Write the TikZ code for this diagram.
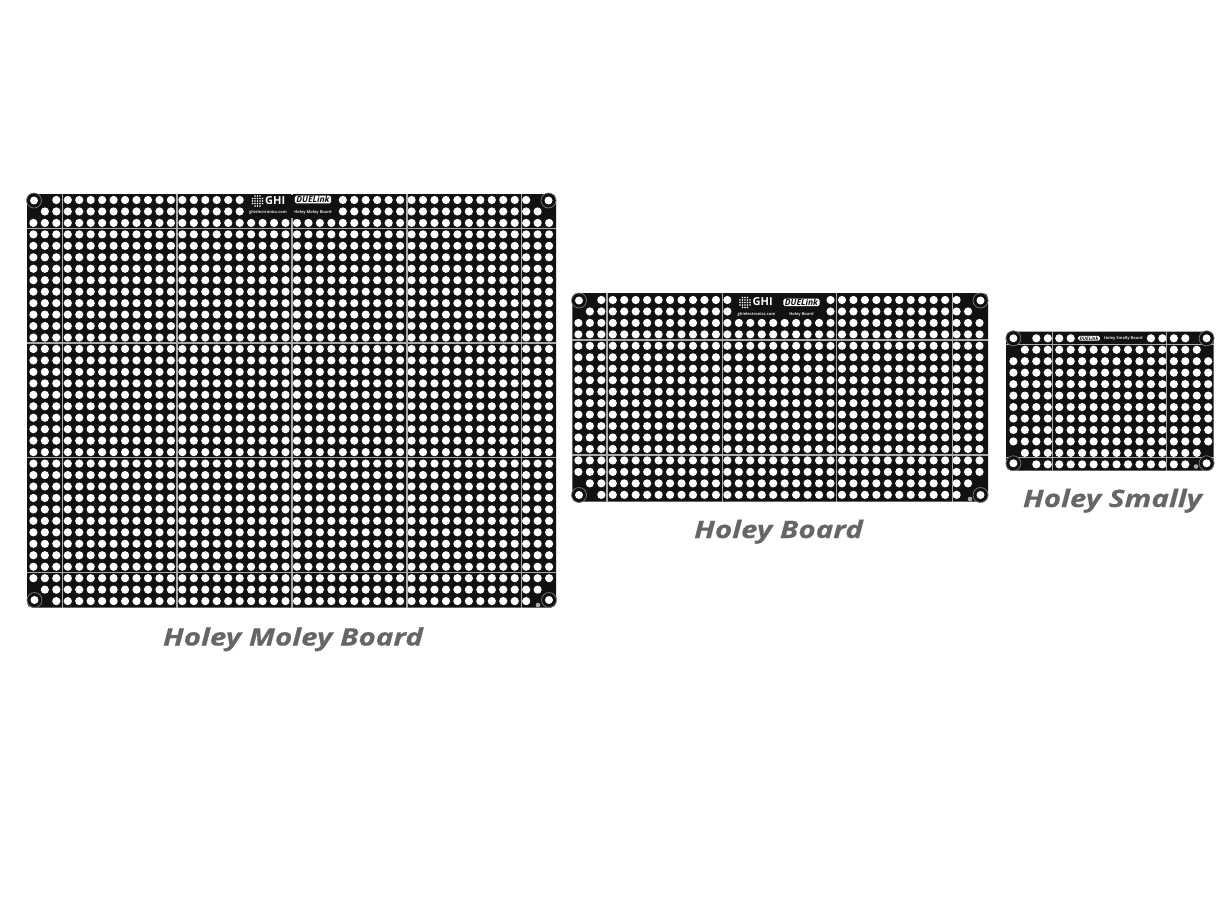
\documentclass[tikz,border=0pt]{standalone}
\usepackage{fontspec}
\setmainfont{Open Sans}
\newfontfamily\capfont[FakeStretch=1.235,BoldItalicFeatures={FakeBold=0.4}]{Open Sans}
\usepackage{xcolor}
\definecolor{pcb}{HTML}{111111}
\definecolor{cutline}{HTML}{ABABAB}
\definecolor{ring}{HTML}{7A7A7A}
\definecolor{caption}{HTML}{666666}
\newcommand{\holes}[4]{% first x, first y, columns, rows
  \foreach \col in {1,...,#3} \foreach \row in {1,...,#4}
    \fill[white] ({#1+11.46*(\col-1)},{#2+11.46*(\row-1)}) circle (4.1);
}
\newcommand{\blanks}[3]{% first x, first y, list of column/row
  \foreach \col/\row in {#3}
    \fill[pcb] ({#1+11.46*\col},{#2+11.46*\row}) circle (5);
}
\tikzset{
  board/.style={fill=pcb, rounded corners=5pt},
  cut/.style={draw=cutline, line width=1.1pt},
  boardname/.style={font=\capfont\bfseries\itshape\fontsize{24}{24}\selectfont, text=caption, inner sep=0pt, anchor=base},
  tiny/.style={font=\bfseries\fontsize{4}{4}\selectfont, text=white!85!black, inner sep=0pt},
  mount/.pic={
    \fill[pcb] (0,0) circle (7.5);
    \draw[ring, line width=0.7pt] (0,0) circle (7.5);
    \fill[white] (0,0) circle (4);
  },
  badge/.pic={
    \node[fill=white, rounded corners=1.5pt, inner xsep=1.5pt, inner ysep=0.5pt, text=pcb,
      font=\bfseries\itshape\fontsize{#1}{#1}\selectfont] (text) {DUELink};
  },
  ghimark/.pic={
    \foreach \i in {-2,...,2} \foreach \j in {-2,...,2} {
      \ifnum\numexpr\i*\i+\j*\j\relax<7
        \fill[white] (\i*2.5,\j*2.5) circle (0.95);
      \fi
    }
    \node[font=\bfseries\fontsize{11}{11}\selectfont, text=white, inner sep=0pt, anchor=west] (ghi) at (7.5,-0.5) {GHI};
  },
}
\begin{document}
\begin{tikzpicture}[x=1pt, y=-1pt]
  \useasboundingbox (0,0) rectangle (1229,900);

  % large board
  \fill[board] (27,194) rectangle (556,607.5);
  \holes{33.4}{200}{46}{36}
  \blanks{33.4}{200}{1/0,0/1,44/0,45/1,1/35,0/34,44/35,45/34}
  \foreach \x in {62.3,177,292,407,521.5} \draw[cut] (\x,194) -- (\x,607.5);
  \foreach \y in {228.5,343,457.5,572.5} \draw[cut] (27,\y) -- (556,\y);
  \fill[pcb] (247,195) rectangle (338,217.5);
  \pic at (34,200.5) {mount};
  \pic at (548.5,200.5) {mount};
  \pic at (34.5,600) {mount};
  \pic at (549,600) {mount};
  \fill[cutline] (538,605) circle (2.3);
  \pic (logoA) at (257.5,201) {ghimark};
  \pic (badgeA) at (313,199.5) {badge=8.5};
  \node[tiny] (urlA) at (268,212.5) {ghielectronics.com};
  \node[tiny] (nameA) at (313,212.5) {Holey Moley Board};
  \node[boardname] (captionA) at (293,645.5) {Holey Moley Board};

  % middle board
  \fill[board] (572.3,293) rectangle (988,501.5);
  \holes{578.4}{300}{36}{18}
  \blanks{578.4}{300}{1/0,0/1,34/0,35/1,1/17,0/16,34/17,35/16}
  \foreach \x in {607,722.3,836.7,952.7} \draw[cut] (\x,293) -- (\x,501.5);
  \foreach \y in {340,455} \draw[cut] (572.3,\y) -- (988,\y);
  \fill[pcb] (733.5,294) rectangle (826,317);
  \pic at (579,300.5) {mount};
  \pic at (980.5,300.5) {mount};
  \pic at (579,495) {mount};
  \pic at (980.5,495) {mount};
  \fill[cutline] (970,499) circle (2.3);
  \pic (logoB) at (745,302.5) {ghimark};
  \pic (badgeB) at (801.5,302.4) {badge=8.5};
  \node[tiny] (urlB) at (756.5,314.3) {ghielectronics.com};
  \node[tiny] (nameB) at (801.5,314.3) {Holey Board};
  \node[boardname] (captionB) at (778.5,538) {Holey Board};

  % small board
  \fill[board] (1006,331.7) rectangle (1213.5,470.5);
  \holes{1013.4}{338.3}{18}{12}
  \blanks{1013.4}{338.3}{1/0,0/1,16/0,17/1,1/11,0/10,16/11,17/10}
  \foreach \x in {1052.7,1166.7} \draw[cut] (\x,331.7) -- (\x,470.5);
  \foreach \y in {344.3,457.7} \draw[cut] (1006,\y) -- (1213.5,\y);
  \fill[pcb] (1075,333) rectangle (1145,343);
  \pic at (1013.4,338.3) {mount};
  \pic at (1206.6,338.3) {mount};
  \pic at (1013.4,463.3) {mount};
  \pic at (1206.6,463.3) {mount};
  \fill[cutline] (1196,466.5) circle (2.3);
  \pic (badgeC) at (1089,338.3) {badge=4.8};
  \node[tiny] (nameC) at (1123.3,338.5) {Holey Smally Board};
  \node[boardname] (captionC) at (1112.5,507) {Holey Smally};
\end{tikzpicture}
\end{document}
